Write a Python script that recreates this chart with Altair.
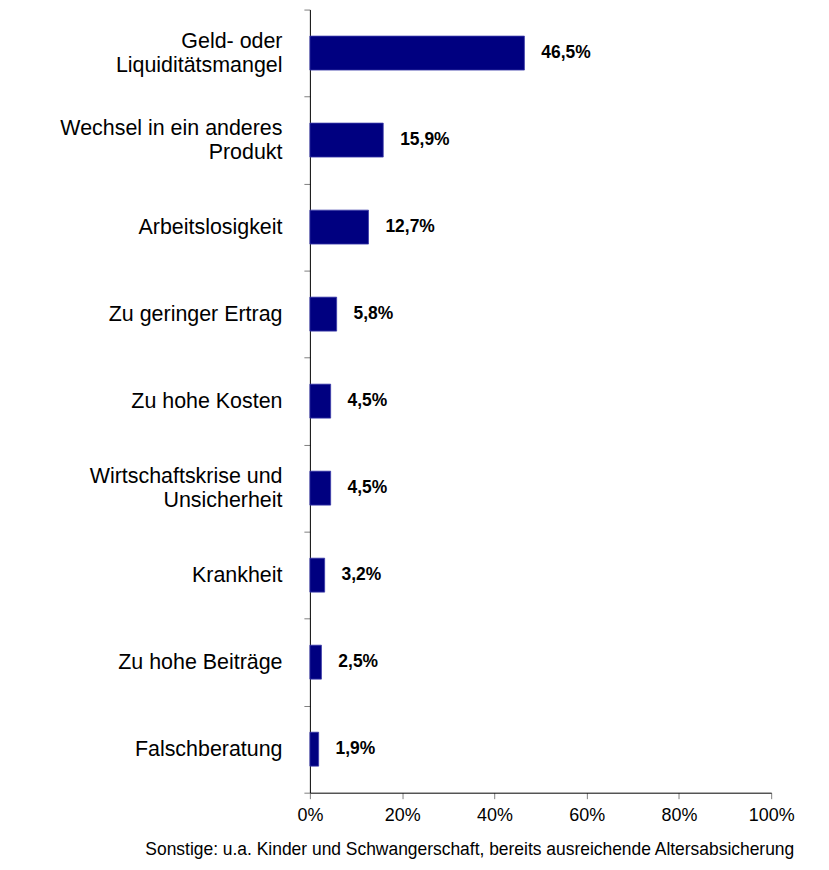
import altair as alt
import pandas as pd

categories = [
    "Geld- oder|Liquiditätsmangel",
    "Wechsel in ein anderes|Produkt",
    "Arbeitslosigkeit",
    "Zu geringer Ertrag",
    "Zu hohe Kosten",
    "Wirtschaftskrise und|Unsicherheit",
    "Krankheit",
    "Zu hohe Beiträge",
    "Falschberatung",
]
values = [46.5, 15.9, 12.7, 5.8, 4.5, 4.5, 3.2, 2.5, 1.9]
value_labels = ["46,5%", "15,9%", "12,7%", "5,8%", "4,5%", "4,5%", "3,2%", "2,5%", "1,9%"]
x_ticks = [0, 20, 40, 60, 80, 100]
footnote = "Sonstige: u.a. Kinder und Schwangerschaft, bereits ausreichende Altersabsicherung"

df = pd.DataFrame({"cat": categories, "val": values, "lbl": value_labels})

FONT = "Liberation Sans"

y_enc = alt.Y(
    "cat:N",
    sort=categories,
    scale=alt.Scale(paddingInner=0, paddingOuter=0),
    axis=alt.Axis(
        title=None,
        labelExpr="split(datum.label, '|')",
        labelFont=FONT,
        labelFontSize=21.5,
        labelColor="#000000",
        labelPadding=22,
        labelLineHeight=24,
        labelOffset={"condition": {"test": "indexof(datum.label, '|') >= 0", "value": -12}, "value": 0},
        tickBand="extent",
        tickSize=6,
        tickColor="#808080",
        domainColor="#000000",
        labelLimit=400,
    ),
)

x_enc = alt.X(
    "val:Q",
    scale=alt.Scale(domain=[0, 100], nice=False),
    axis=alt.Axis(
        title=None,
        values=x_ticks,
        labelExpr="datum.value + '%'",
        labelFont=FONT,
        labelFontSize=18,
        labelColor="#000000",
        labelPadding=8,
        labelFlush=False,
        tickSize=6,
        tickColor="#808080",
        domainColor="#000000",
        grid=False,
    ),
)

bars = alt.Chart(df).mark_bar(
    color="#000080", stroke="#3a3aa8", strokeWidth=0.8, height=alt.RelativeBandSize(0.39)
).encode(x=x_enc, y=y_enc)

texts = alt.Chart(df).mark_text(
    align="left", baseline="middle", dx=17, font=FONT, fontSize=17.5, fontWeight="bold", color="#000000"
).encode(x="val:Q", y=alt.Y("cat:N", sort=categories), text="lbl:N")

chart = (
    alt.layer(bars, texts)
    .properties(
        width=463,
        height=786,
        autosize=alt.AutoSizeParams(type="none"),
        padding={"left": 303, "top": 0, "right": 50, "bottom": 70},
        title=alt.TitleParams(
            text=footnote,
            orient="bottom",
            anchor="middle",
            frame="group",
            dx=-71,
            offset=17,
            font=FONT,
            fontSize=17.5,
            fontWeight="normal",
            color="#000000",
        ),
    )
    .configure_view(stroke=None)
)

chart.save("out.html", embed_options={"renderer": "svg", "actions": False})
